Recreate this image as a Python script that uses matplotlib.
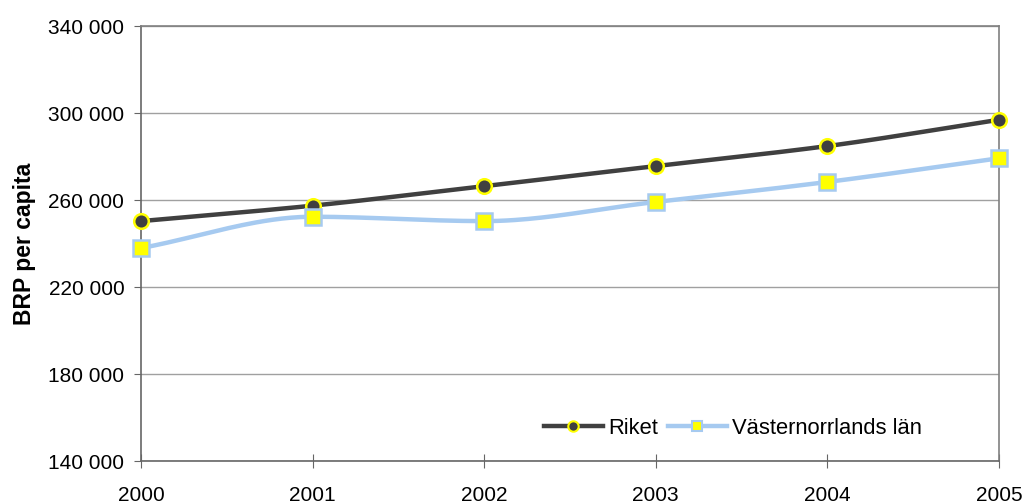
import matplotlib
matplotlib.use("Agg")
import matplotlib.pyplot as plt
import numpy as np
from matplotlib.lines import Line2D

years = [2000, 2001, 2002, 2003, 2004, 2005]
riket = [250300, 257400, 266400, 275600, 284800, 296900]
vasternorrland = [237900, 252300, 250300, 259100, 268300, 279200]
yticks = [140000, 180000, 220000, 260000, 300000, 340000]


def smooth(x, y, n=40):
    # utjämnad linje genom punkterna (monoton kubisk Hermite)
    x = np.asarray(x, float)
    y = np.asarray(y, float)
    h = np.diff(x)
    d = np.diff(y) / h
    m = np.zeros_like(y)
    m[0], m[-1] = d[0], d[-1]
    for i in range(1, len(y) - 1):
        if d[i - 1] * d[i] > 0:
            m[i] = 2 / (1 / d[i - 1] + 1 / d[i])
    xs, ys = [], []
    t = np.linspace(0, 1, n)
    for i in range(len(x) - 1):
        h00 = 2 * t**3 - 3 * t**2 + 1
        h10 = t**3 - 2 * t**2 + t
        h01 = -2 * t**3 + 3 * t**2
        h11 = t**3 - t**2
        xs.extend(x[i] + t * h[i])
        ys.extend(h00 * y[i] + h10 * h[i] * m[i] + h01 * y[i + 1] + h11 * h[i] * m[i + 1])
    return xs, ys


plt.rcParams['font.family'] = ['Liberation Sans', 'DejaVu Sans']

fig = plt.figure(figsize=(10.26, 5.04), dpi=100)
ax = fig.add_axes([0.1374, 0.0853, 0.8363, 0.8631])

dark = '#404040'
light = '#A6CAF0'

sx, sy = smooth(years, riket)
ax.plot(sx, sy, color=dark, lw=3.2, solid_capstyle='round', zorder=3, clip_on=False)
ax.plot(years, riket, ls='none', marker='o', ms=10.5, mfc=dark, mec='#FFFF00', mew=1.8,
        zorder=5, clip_on=False)

sx, sy = smooth(years, vasternorrland)
ax.plot(sx, sy, color=light, lw=3.2, solid_capstyle='round', zorder=3, clip_on=False)
ax.plot(years, vasternorrland, ls='none', marker='s', ms=11, mfc='#FFFF00', mec=light, mew=1.8,
        zorder=5, clip_on=False)

ax.set_xlim(2000, 2005)
ax.set_ylim(140000, 340000)
ax.set_xticks(years)
ax.set_yticks(yticks)
ax.set_yticklabels([f"{v:,}".replace(',', ' ') for v in yticks])
ax.grid(axis='y', color='#A0A0A0', lw=1)
ax.set_axisbelow(True)

for s in ax.spines.values():
    s.set_color('#808080')
    s.set_linewidth(1.2)
ax.spines['left'].set_color('#666666')
ax.spines['bottom'].set_color('#666666')

ax.tick_params(axis='y', direction='out', length=5, color='#666666', labelsize=15, pad=7)
ax.tick_params(axis='x', direction='inout', length=10, color='#666666', labelsize=15, pad=13)
ax.set_ylabel('BRP per capita', fontsize=16.5, fontweight='bold', labelpad=9)

handles = [
    Line2D([], [], color=dark, lw=3.2, marker='o', ms=7.5, mfc=dark, mec='#FFFF00', mew=1.5),
    Line2D([], [], color=light, lw=3.2, marker='s', ms=7.5, mfc='#FFFF00', mec=light, mew=1.5),
]
ax.legend(handles, ['Riket', 'Västernorrlands län'], ncol=2, frameon=False, fontsize=15.8,
          loc='lower right', bbox_to_anchor=(0.933, 0.006), handlelength=2.7,
          handletextpad=0.23, columnspacing=0.45)

fig.savefig('out.png', dpi=100)
